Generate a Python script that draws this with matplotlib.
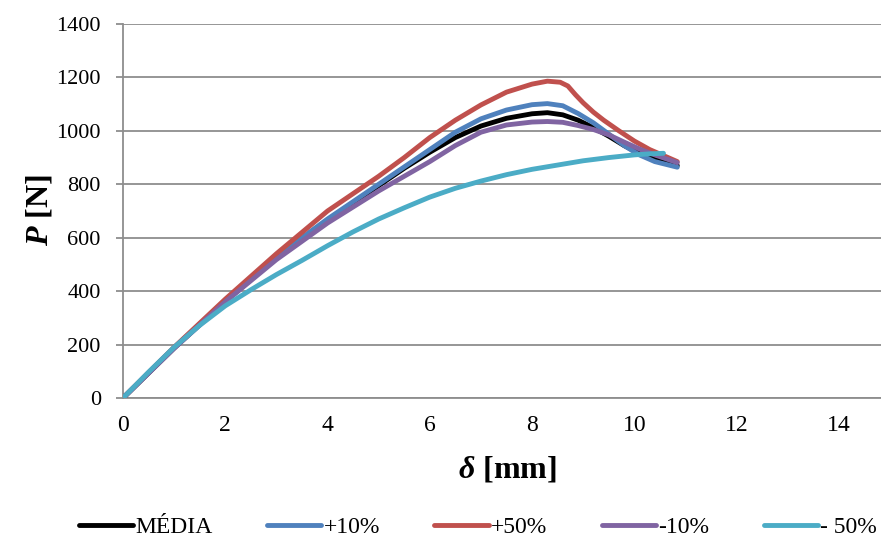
import matplotlib
matplotlib.use("Agg")
import matplotlib.pyplot as plt

# Load-displacement curves (delta in mm, P in N)
media_x = [0, 1, 2, 3, 4, 4.5, 5, 5.5, 6, 6.5, 7, 7.5, 8, 8.3, 8.6, 8.9, 9.2, 9.5, 9.8, 10.1, 10.4, 10.84]
media_y = [0, 187, 362, 525, 665, 728, 795, 860, 920, 975, 1018, 1047, 1064, 1068, 1060, 1040, 1012, 980, 945, 915, 893, 870]

p10_x = [0, 1, 2, 3, 4, 4.5, 5, 5.5, 6, 6.5, 7, 7.5, 8, 8.3, 8.6, 8.9, 9.2, 9.5, 9.8, 10.1, 10.4, 10.84]
p10_y = [0, 188, 365, 530, 670, 735, 800, 865, 930, 995, 1045, 1078, 1098, 1102, 1094, 1065, 1030, 988, 945, 910, 885, 864]

p50_x = [0, 1, 2, 3, 4, 4.5, 5, 5.5, 6, 6.5, 7, 7.5, 8, 8.3, 8.55, 8.7, 8.85, 9.0, 9.2, 9.4, 9.7, 10.0, 10.3, 10.6, 10.84]
p50_y = [0, 190, 370, 540, 700, 765, 830, 900, 975, 1040, 1097, 1145, 1175, 1186, 1182, 1168, 1135, 1105, 1070, 1040, 1000, 962, 930, 905, 885]

m10_x = [0, 1, 2, 3, 4, 4.5, 5, 5.5, 6, 6.5, 7, 7.5, 8, 8.3, 8.6, 8.9, 9.2, 9.5, 9.8, 10.1, 10.4, 10.84]
m10_y = [0, 186, 360, 518, 655, 715, 775, 830, 885, 945, 995, 1022, 1033, 1035, 1032, 1020, 1005, 985, 958, 932, 910, 881]

m50_x = [0, 0.5, 1, 1.5, 2, 2.5, 3, 3.5, 4, 4.5, 5, 5.5, 6, 6.5, 7, 7.5, 8, 8.5, 9, 9.5, 10, 10.3, 10.57]
m50_y = [0, 97, 190, 272, 345, 405, 462, 515, 570, 622, 670, 712, 752, 785, 812, 836, 856, 872, 888, 900, 910, 914, 916]

series_labels = ["MÉDIA", "+10%", "+50%", "-10%", "- 50%"]
series_colors = ["#000000", "#4F81BD", "#C0504D", "#8064A2", "#4BACC6"]

x_ticks = [0, 2, 4, 6, 8, 10, 12, 14]
y_ticks = [0, 200, 400, 600, 800, 1000, 1200, 1400]

plt.rcParams["font.family"] = ["Liberation Serif", "DejaVu Serif"]
plt.rcParams["mathtext.fontset"] = "custom"
plt.rcParams["mathtext.it"] = "Liberation Serif:italic:bold"
plt.rcParams["mathtext.rm"] = "Liberation Serif:bold"
plt.rcParams["mathtext.bf"] = "Liberation Serif:bold"

fig = plt.figure(figsize=(8.81, 5.37), dpi=100)
ax = fig.add_axes([123 / 881, 139 / 537, 767 / 881, 374 / 537])

grid_color = "#8e8e8e"
for y in y_ticks:
    ax.axhline(y, color=grid_color, lw=1.3, zorder=1)

data = [(media_x, media_y), (p10_x, p10_y), (p50_x, p50_y), (m10_x, m10_y), (m50_x, m50_y)]
for (xs, ys), lab, col in zip(data, series_labels, series_colors):
    ax.plot(xs, ys, color=col, lw=3.5, label=lab, solid_capstyle="round",
            solid_joinstyle="round", zorder=3)

ax.set_xlim(0, 15)
ax.set_ylim(0, 1400)
ax.set_xticks(x_ticks)
ax.set_yticks(y_ticks)

for side in ("top", "right"):
    ax.spines[side].set_visible(False)
for side in ("left", "bottom"):
    ax.spines[side].set_color(grid_color)
    ax.spines[side].set_linewidth(1.3)

ax.tick_params(axis="y", length=5, width=1.3, color=grid_color, pad=11, labelsize=16)
ax.tick_params(axis="x", length=0, pad=12, labelsize=17)

fig.text(507 / 881, 1 - 470 / 537, r"$\delta$ [mm]", ha="center", va="center",
         fontsize=23, fontweight="bold")
fig.text(40 / 881, 1 - 210 / 537, r"$P$ [N]", ha="center", va="center",
         fontsize=23, fontweight="bold", rotation=90)

fig.legend(loc="center", bbox_to_anchor=(478 / 881, 1 - 527 / 537), ncol=5,
           frameon=False, fontsize=17, handlelength=2.3, handletextpad=0.1,
           columnspacing=2.3, borderaxespad=0)

fig.savefig("out.png", dpi=100)
